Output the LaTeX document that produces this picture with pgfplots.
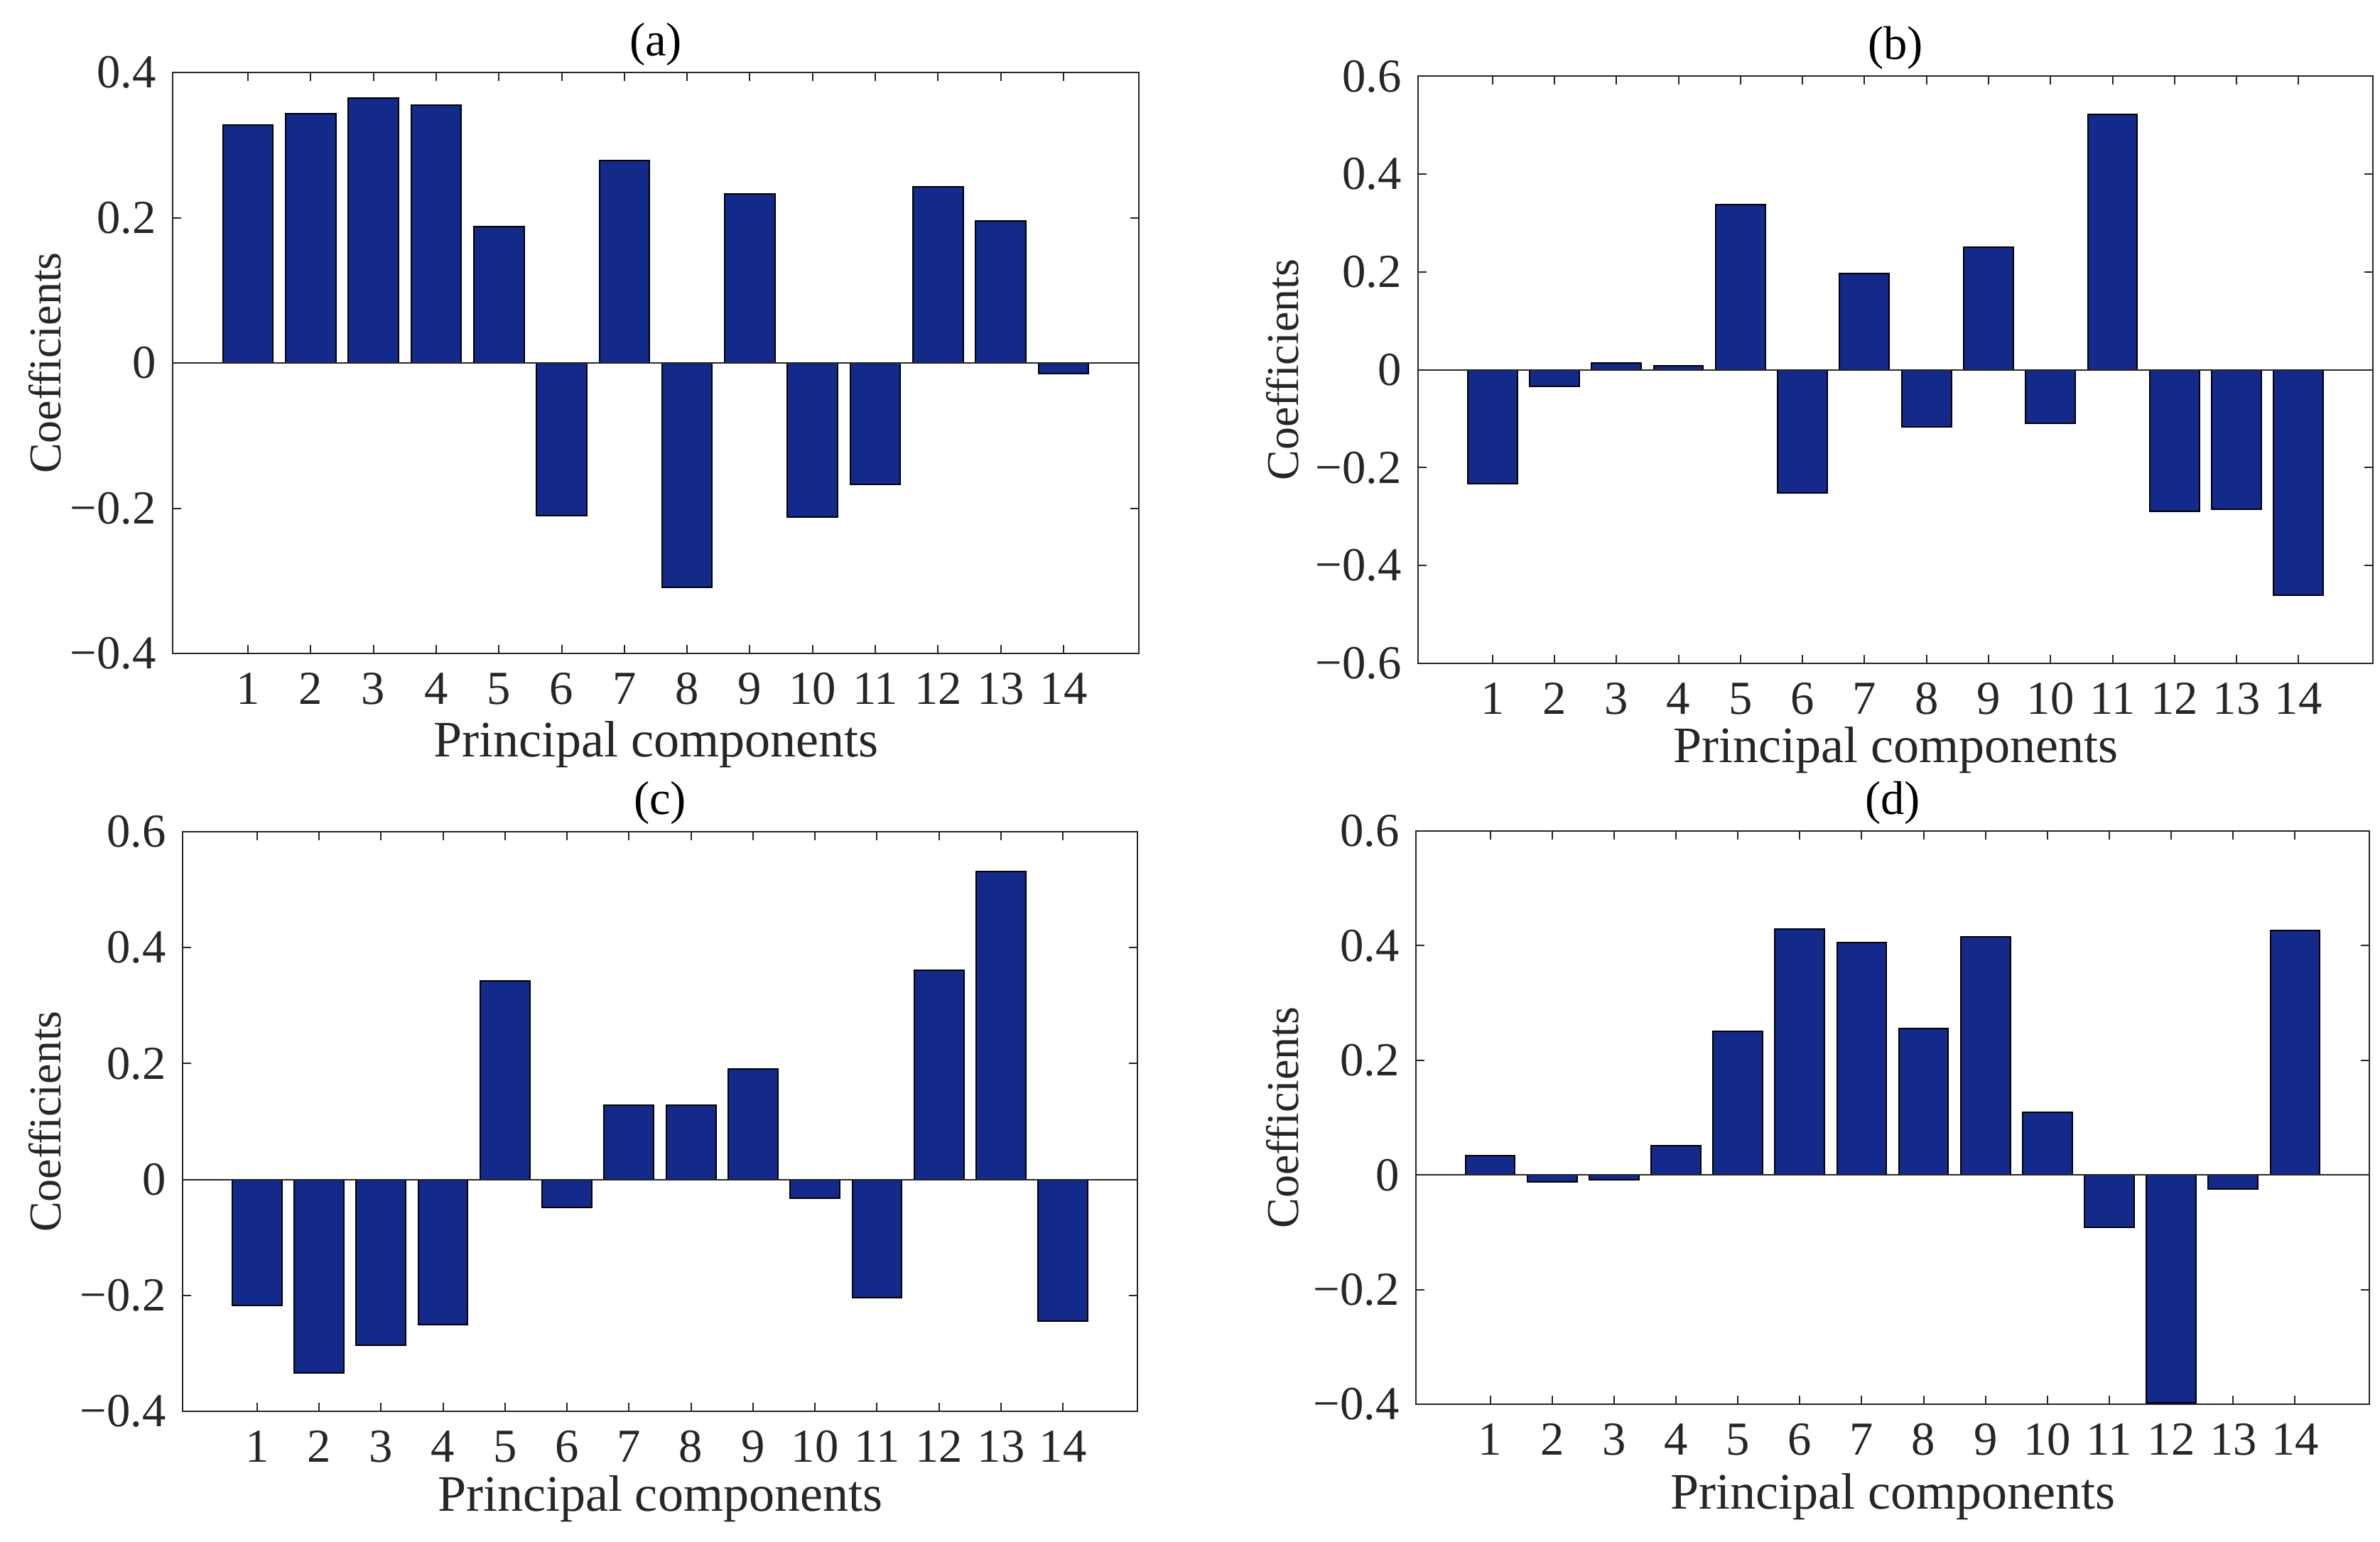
\documentclass[border=0pt]{standalone}
\usepackage{fontspec}
\setmainfont{Liberation Serif}
\usepackage{pgfplots}
\pgfplotsset{compat=1.18}
\definecolor{barblue}{RGB}{19,42,138}
\definecolor{axgray}{RGB}{38,38,38}

\pgfplotsset{
    ylab/.style={every axis y label/.style={at={(axis description cs:0,0.5)}, anchor=center,
        font=\fontsize{9.6}{11}\selectfont, text=axgray, xshift=#1, rotate=90}},
    xlab/.style={every axis x label/.style={at={(axis description cs:0.5,0)}, anchor=center,
        font=\fontsize{10.8}{12}\selectfont, text=axgray, yshift=#1}},
    pcaplot/.style={
        scale only axis,
        anchor=south west,
        axis line style={axgray, line width=0.3pt},
        tick style={axgray, line width=0.3pt},
        tick align=inside,
        major tick length=1.8pt,
        xmin=-0.2, xmax=15.2,
        xtick={1,...,14},
        xticklabels={1,2,3,4,5,6,7,8,9,10,11,12,13,14},
        xticklabel style={font=\fontsize{10}{11}\selectfont, text=axgray, yshift=-0.6pt},
        yticklabel style={font=\fontsize{10}{11}\selectfont, text=axgray},
        /pgf/number format/assume math mode=true,
        xlab=-18.5pt, ylab=-27pt,
        every axis title/.style={font=\fontsize{10}{12}\selectfont, text=black, at={(axis description cs:0.5,1)}, anchor=center, yshift=6pt},
        xlabel={Principal components},
        ylabel={Coefficients},
    },
    pcabar/.style={ybar, bar width=0.8, fill=barblue, draw=black, line width=0.3pt},
    pcabase/.style={axgray, line width=0.3pt, no marks},
}

\begin{document}
\begin{tikzpicture}
\useasboundingbox (0,0) rectangle (502.5pt,-325.65pt);

% (a)
\begin{axis}[pcaplot,
    at={(36.45pt,-138pt)}, width=204pt, height=122.7pt,
    title={(a)},
    ymin=-0.4, ymax=0.4,
    ytick={-0.4,-0.2,0,0.2,0.4},
    yticklabels={−0.4,−0.2,0,0.2,0.4},
    xlab=-19.3pt,
]
\addplot[pcabar] coordinates {
    (1,0.328) (2,0.343) (3,0.365) (4,0.355) (5,0.188) (6,-0.210) (7,0.279)
    (8,-0.309) (9,0.233) (10,-0.212) (11,-0.167) (12,0.243) (13,0.196) (14,-0.015)
};
\addplot[pcabase] coordinates {(-0.2,0) (15.2,0)};
\end{axis}

% (b)
\begin{axis}[pcaplot,
    at={(299.4pt,-140.1pt)}, width=201.6pt, height=124pt,
    title={(b)},
    ymin=-0.6, ymax=0.6,
    ytick={-0.6,-0.4,-0.2,0,0.2,0.4,0.6},
    yticklabels={−0.6,−0.4,−0.2,0,0.2,0.4,0.6},
    ylab=-28.6pt, xlab=-18.4pt,
]
\addplot[pcabar] coordinates {
    (1,-0.233) (2,-0.034) (3,0.014) (4,0.008) (5,0.338) (6,-0.252) (7,0.197)
    (8,-0.116) (9,0.250) (10,-0.109) (11,0.522) (12,-0.290) (13,-0.285) (14,-0.461)
};
\addplot[pcabase] coordinates {(-0.2,0) (15.2,0)};
\end{axis}

% (c)
\begin{axis}[pcaplot,
    at={(38.55pt,-298.05pt)}, width=201.6pt, height=122.4pt,
    title={(c)},
    ymin=-0.4, ymax=0.6,
    ytick={-0.4,-0.2,0,0.2,0.4,0.6},
    yticklabels={−0.4,−0.2,0,0.2,0.4,0.6},
    ylab=-29pt, xlab=-18.5pt,
]
\addplot[pcabar] coordinates {
    (1,-0.217) (2,-0.334) (3,-0.286) (4,-0.250) (5,0.343) (6,-0.048) (7,0.128)
    (8,0.128) (9,0.191) (10,-0.032) (11,-0.204) (12,0.361) (13,0.531) (14,-0.244)
};
\addplot[pcabase] coordinates {(-0.2,0) (15.2,0)};
\end{axis}

% (d)
\begin{axis}[pcaplot,
    at={(298.95pt,-296.55pt)}, width=201.3pt, height=121.05pt,
    title={(d)},
    ymin=-0.4, ymax=0.6,
    ytick={-0.4,-0.2,0,0.2,0.4,0.6},
    yticklabels={−0.4,−0.2,0,0.2,0.4,0.6},
    ylab=-28.2pt, xlab=-19.5pt,
]
\addplot[pcabar] coordinates {
    (1,0.034) (2,-0.012) (3,-0.008) (4,0.051) (5,0.250) (6,0.429) (7,0.405)
    (8,0.256) (9,0.415) (10,0.109) (11,-0.091) (12,-0.397) (13,-0.025) (14,0.427)
};
\addplot[pcabase] coordinates {(-0.2,0) (15.2,0)};
\end{axis}
\end{tikzpicture}
\end{document}
